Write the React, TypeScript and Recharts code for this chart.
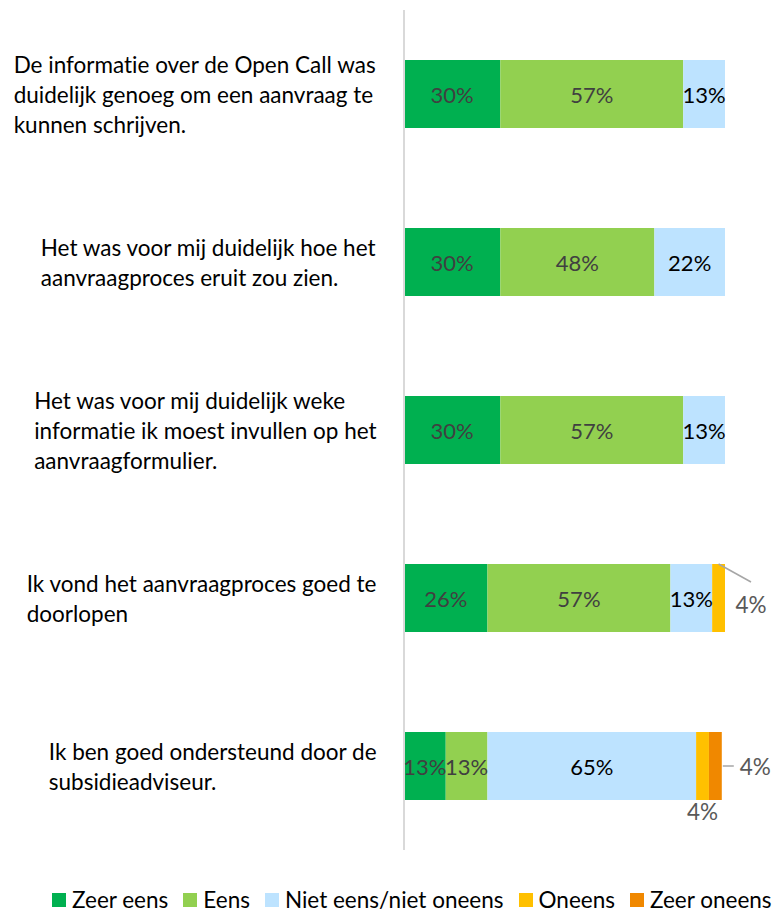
import { BarChart, Bar, XAxis, YAxis, Legend, LabelList } from 'recharts'

const categories = ['q1', 'q2', 'q3', 'q4', 'q5']
const categoryLines = [
  ['De informatie over de Open Call was', 'duidelijk genoeg om een aanvraag te', 'kunnen schrijven.'],
  ['Het was voor mij duidelijk hoe het', 'aanvraagproces eruit zou zien.'],
  ['Het was voor mij duidelijk weke', 'informatie ik moest invullen op het', 'aanvraagformulier.'],
  ['Ik vond het aanvraagproces goed te', 'doorlopen'],
  ['Ik ben goed ondersteund door de', 'subsidieadviseur.'],
]
const zeerEens = [30, 30, 30, 26, 13]
const eens = [57, 48, 57, 57, 13]
const neutraal = [13, 22, 13, 13, 65]
const oneens = [0, 0, 0, 4, 4]
const zeerOneens = [0, 0, 0, 0, 4]

const seriesNames = ['Zeer eens', 'Eens', 'Niet eens/niet oneens', 'Oneens', 'Zeer oneens']
const colors = ['#00B050', '#92D050', '#BDE3FF', '#FFC000', '#F08800']

const FONT = 'Lato, "Liberation Sans", sans-serif'
const SIZE = 22.5
const PLOT_TOP = 10
const PLOT_BOTTOM = 852

const data = categories.map((name, i) => ({
  name,
  zeerEens: zeerEens[i],
  eens: eens[i],
  neutraal: neutraal[i],
  oneens: oneens[i],
  zeerOneens: zeerOneens[i],
}))

// which row a label belongs to, from its position
function rowOf(props: any) {
  const band = (PLOT_BOTTOM - PLOT_TOP) / categories.length
  return Math.floor((props.y + props.height / 2 - PLOT_TOP) / band)
}

let ctx: CanvasRenderingContext2D | null = null
function measure(text: string, size: number) {
  if (!ctx) ctx = document.createElement('canvas').getContext('2d')
  if (!ctx) return text.length * size * 0.5
  ctx.font = `${size}px ${FONT}`
  return ctx.measureText(text).width
}

const textStyle = { fontVariantLigatures: 'none' as const }

function CategoryTick(props: any) {
  const { y, payload } = props
  const lines = categoryLines[payload.index] || []
  const lh = 30
  const w = Math.max(...lines.map((l) => measure(l, SIZE)))
  const x0 = 377 - w
  const top = y - ((lines.length - 1) * lh) / 2
  return (
    <text x={x0} y={top} fontSize={SIZE} fontFamily={FONT} fill="#000" dominantBaseline="central" style={textStyle}>
      {lines.map((l, i) => (
        <tspan key={i} x={x0} y={top + i * lh}>
          {l}
        </tspan>
      ))}
    </text>
  )
}

function inside(color: string) {
  return (props: any) => {
    const { x, y, width, height, value } = props
    if (!value || value < 10) return null
    return (
      <text x={x + width / 2} y={y + height / 2} textAnchor="middle" dominantBaseline="central"
        fontSize={22} fontFamily={FONT} fill={color}>
        {value}%
      </text>
    )
  }
}

function oneensLabel(props: any) {
  const { x, y, width, height, value } = props
  if (!value) return null
  const row = rowOf(props)
  if (!zeerOneens[row]) {
    return (
      <g>
        <line x1={x + width / 2} y1={y} x2={x + width + 26} y2={y + 18} stroke="#A6A6A6" strokeWidth={1.5} />
        <text x={x + width + 26} y={y + height / 2 + 6} textAnchor="middle" dominantBaseline="central"
          fontSize={SIZE} fontFamily={FONT} fill="#595959">
          {value}%
        </text>
      </g>
    )
  }
  return (
    <text x={x + width / 2} y={y + height + 11} textAnchor="middle" dominantBaseline="central"
      fontSize={SIZE} fontFamily={FONT} fill="#595959">
      {value}%
    </text>
  )
}

function zeerOneensLabel(props: any) {
  const { x, y, width, height, value } = props
  if (!value) return null
  return (
    <g>
      <line x1={x + width + 1} y1={y + height / 2} x2={x + width + 12} y2={y + height / 2} stroke="#A6A6A6" strokeWidth={1.5} />
      <text x={x + width + 18} y={y + height / 2} dominantBaseline="central"
        fontSize={SIZE} fontFamily={FONT} fill="#595959">
        {value}%
      </text>
    </g>
  )
}

function LegendContent() {
  return (
    <div style={{ display: 'flex', justifyContent: 'flex-start', paddingLeft: 52, fontFamily: FONT, fontSize: SIZE, color: '#000', ...textStyle }}>
      {seriesNames.map((n, i) => (
        <div key={n} style={{ display: 'flex', alignItems: 'center', marginRight: 15, whiteSpace: 'nowrap' }}>
          <span style={{ width: 14, height: 14, background: colors[i], display: 'inline-block', marginRight: 6 }} />
          <span>{n}</span>
        </div>
      ))}
    </div>
  )
}

export default function App() {
  return (
    <div style={{ position: 'absolute', left: 0, top: 0, width: 778, height: 913, background: '#fff' }}>
      <BarChart width={778} height={913} data={data} layout="vertical" barSize={68}
        margin={{ top: PLOT_TOP, right: 53, left: 0, bottom: 36 }}>
        <XAxis type="number" domain={[0, 100]} hide />
        <YAxis type="category" dataKey="name" width={404} axisLine={{ stroke: '#D9D9D9', strokeWidth: 2 }}
          tickLine={false} tick={<CategoryTick />} interval={0} />
        <Legend verticalAlign="bottom" content={<LegendContent />} wrapperStyle={{ bottom: 0, left: 0, width: 778 }} />
        <Bar dataKey="zeerEens" stackId="a" fill={colors[0]} isAnimationActive={false}>
          <LabelList dataKey="zeerEens" content={inside('#404040')} />
        </Bar>
        <Bar dataKey="eens" stackId="a" fill={colors[1]} isAnimationActive={false}>
          <LabelList dataKey="eens" content={inside('#404040')} />
        </Bar>
        <Bar dataKey="neutraal" stackId="a" fill={colors[2]} isAnimationActive={false}>
          <LabelList dataKey="neutraal" content={inside('#000')} />
        </Bar>
        <Bar dataKey="oneens" stackId="a" fill={colors[3]} isAnimationActive={false}>
          <LabelList dataKey="oneens" content={oneensLabel} />
        </Bar>
        <Bar dataKey="zeerOneens" stackId="a" fill={colors[4]} isAnimationActive={false}>
          <LabelList dataKey="zeerOneens" content={zeerOneensLabel} />
        </Bar>
      </BarChart>
    </div>
  )
}
